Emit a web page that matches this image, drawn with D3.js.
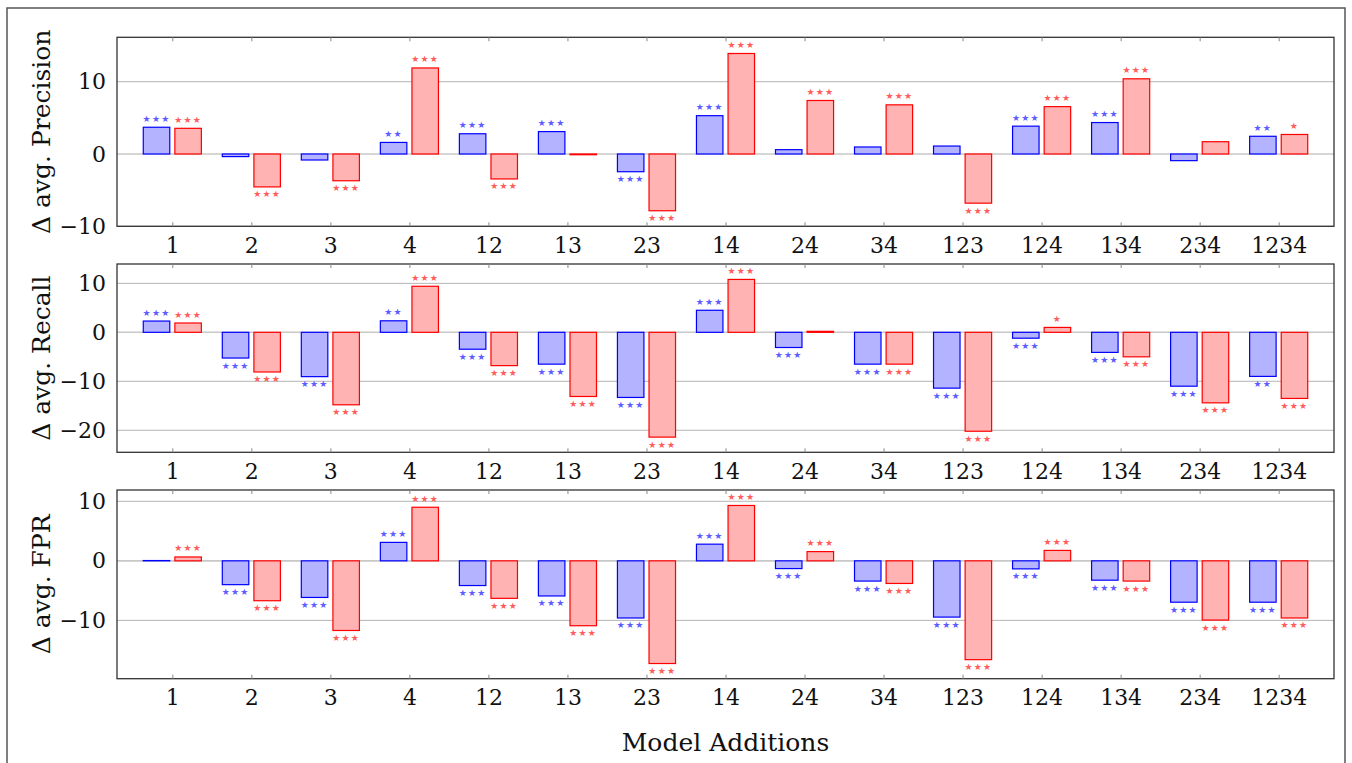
<html>
<script src="https://d3js.org/d3.v7.min.js"></script>
<style>
	body { margin: 0; background: white; }
	text { font-family: "DejaVu Serif", serif; }
</style>
<body>
	<svg id="chart" width=1352 height=763></svg>
	<script>
		// categories (model additions)
		const cats = ["1", "2", "3", "4", "12", "13", "23", "14", "24", "34", "123", "124", "134", "234", "1234"];

		// Δ avg. Precision
		const precBlue = [3.7, -0.36, -0.83, 1.6, 2.8, 3.1, -2.45, 5.3, 0.6, 0.97, 1.1, 3.85, 4.35, -0.92, 2.45];
		const precRed = [3.55, -4.55, -3.7, 11.9, -3.45, -0.1, -7.85, 13.9, 7.4, 6.8, -6.8, 6.55, 10.4, 1.7, 2.7];
		const precBlueSig = ["***", "", "", "**", "***", "***", "***", "***", "", "", "", "***", "***", "", "**"];
		const precRedSig = ["***", "***", "***", "***", "***", "", "***", "***", "***", "***", "***", "***", "***", "", "*"];

		// Δ avg. Recall
		const recBlue = [2.3, -5.25, -9.05, 2.35, -3.45, -6.5, -13.3, 4.5, -3.1, -6.5, -11.4, -1.2, -4.1, -11.0, -9.0];
		const recRed = [1.9, -8.1, -14.8, 9.4, -6.8, -13.1, -21.4, 10.8, 0.2, -6.5, -20.2, 1.0, -5.0, -14.4, -13.5];
		const recBlueSig = ["***", "***", "***", "**", "***", "***", "***", "***", "***", "***", "***", "***", "***", "***", "**"];
		const recRedSig = ["***", "***", "***", "***", "***", "***", "***", "***", "", "***", "***", "*", "***", "***", "***"];

		// Δ avg. FPR
		const fprBlue = [0.05, -4.0, -6.15, 3.1, -4.15, -5.9, -9.6, 2.8, -1.3, -3.4, -9.45, -1.35, -3.25, -6.95, -6.95];
		const fprRed = [0.65, -6.7, -11.7, 9.0, -6.3, -10.9, -17.25, 9.3, 1.55, -3.8, -16.6, 1.75, -3.4, -9.95, -9.6];
		const fprBlueSig = ["", "***", "***", "***", "***", "***", "***", "***", "***", "***", "***", "***", "***", "***", "***"];
		const fprRedSig = ["***", "***", "***", "***", "***", "***", "***", "***", "***", "***", "***", "***", "***", "***", "***"];

		// y tick values per panel
		const precTicks = [-10, 0, 10];
		const recTicks = [-20, -10, 0, 10];
		const fprTicks = [-10, 0, 10];

		const panels = [
			{ label: "Δ avg. Precision", blue: precBlue, red: precRed, bs: precBlueSig, rs: precRedSig, ticks: precTicks, dom: [-10, 16.14], top: 37.3, bottom: 226.3 },
			{ label: "Δ avg. Recall", blue: recBlue, red: recRed, bs: recBlueSig, rs: recRedSig, ticks: recTicks, dom: [-24.5, 13.95], top: 264, bottom: 452.3 },
			{ label: "Δ avg. FPR", blue: fprBlue, red: fprRed, bs: fprBlueSig, rs: fprRedSig, ticks: fprTicks, dom: [-19.8, 11.9], top: 490, bottom: 678.7 }
		];

		const left = 117, right = 1334;
		const svg = d3.select("#chart");

		// outer frame
		svg.append("rect")
			.attr("x", 7).attr("y", 8).attr("width", 1338).attr("height", 770)
			.attr("fill", "none").attr("stroke", "#555").attr("stroke-width", 1.5);

		const x = d3.scalePoint().domain(cats).range([left, right]).padding(0.7);
		const barW = 26.5, off = 15.8;

		panels.forEach(function (p) {
			const y = d3.scaleLinear().domain(p.dom).range([p.bottom, p.top]);
			const g = svg.append("g");

			// grid
			g.selectAll(".grid").data(p.ticks).enter().append("line")
				.attr("x1", left).attr("x2", right)
				.attr("y1", d => y(d)).attr("y2", d => y(d))
				.attr("stroke", d => d == 0 ? "#c8c8c8" : "#b4b4b4")
				.attr("stroke-width", d => d == 0 ? 1.6 : 1);

			// bars
			const series = [
				{ vals: p.blue, sig: p.bs, dx: -off, fill: "#b3b3ff", stroke: "#0000ff", star: "#5c5cff" },
				{ vals: p.red, sig: p.rs, dx: off, fill: "#ffb3b3", stroke: "#ff0000", star: "#ff5c5c" }
			];
			series.forEach(function (s) {
				g.selectAll(null).data(s.vals).enter().append("rect")
					.attr("x", (d, i) => x(cats[i]) + s.dx - barW / 2)
					.attr("width", barW)
					.attr("y", d => y(Math.max(0, d)))
					.attr("height", d => Math.abs(y(d) - y(0)))
					.attr("fill", s.fill)
					.attr("stroke", s.stroke)
					.attr("stroke-width", 1.2);

				g.selectAll(null).data(s.vals).enter().append("text")
					.attr("x", (d, i) => x(cats[i]) + s.dx)
					.attr("y", d => d >= 0 ? y(d) - 8 : y(d) + 8)
					.attr("text-anchor", "middle")
					.attr("dominant-baseline", "middle")
					.style("font-family", "DejaVu Sans")
					.style("font-size", "9px")
					.style("letter-spacing", "1.2px")
					.attr("fill", s.star)
					.text((d, i) => s.sig[i].replace(/\*/g, "★"));
			});

			// frame
			g.append("rect")
				.attr("x", left).attr("y", p.top)
				.attr("width", right - left).attr("height", p.bottom - p.top)
				.attr("fill", "none").attr("stroke", "#333").attr("stroke-width", 1.3);

			// x axis (bottom) with labels, inward ticks
			const xb = g.append("g")
				.attr("transform", "translate(0," + p.bottom + ")")
				.call(d3.axisBottom(x).tickSize(-4).tickPadding(11));
			xb.select(".domain").remove();
			xb.selectAll(".tick line").attr("stroke", "#888");
			xb.selectAll(".tick text")
				.style("font-family", "DejaVu Serif")
				.style("font-size", "22px")
				.attr("fill", "#111");

			const xt = g.append("g")
				.attr("transform", "translate(0," + p.top + ")")
				.call(d3.axisTop(x).tickSize(-4).tickFormat(""));
			xt.select(".domain").remove();
			xt.selectAll(".tick line").attr("stroke", "#888");

			// y axis
			const ya = g.append("g")
				.attr("transform", "translate(" + left + ",0)")
				.call(d3.axisLeft(y).tickValues(p.ticks).tickSize(0).tickPadding(11)
					.tickFormat(d => d < 0 ? "\u2212" + Math.abs(d) : d));
			ya.select(".domain").remove();
			ya.selectAll(".tick text")
				.style("font-family", "DejaVu Serif")
				.style("font-size", "22px")
				.attr("fill", "#111");

			// y label
			g.append("text")
				.attr("transform", "translate(50," + ((p.top + p.bottom) / 2) + ") rotate(-90)")
				.attr("text-anchor", "middle")
				.style("font-size", "25px")
				.attr("fill", "#111")
				.text(p.label);
		});

		// x axis title
		svg.append("text")
			.attr("x", (left + right) / 2)
			.attr("y", 751)
			.attr("text-anchor", "middle")
			.style("font-size", "25px")
			.attr("fill", "#111")
			.text("Model Additions");
	</script>
</body>
</html>
